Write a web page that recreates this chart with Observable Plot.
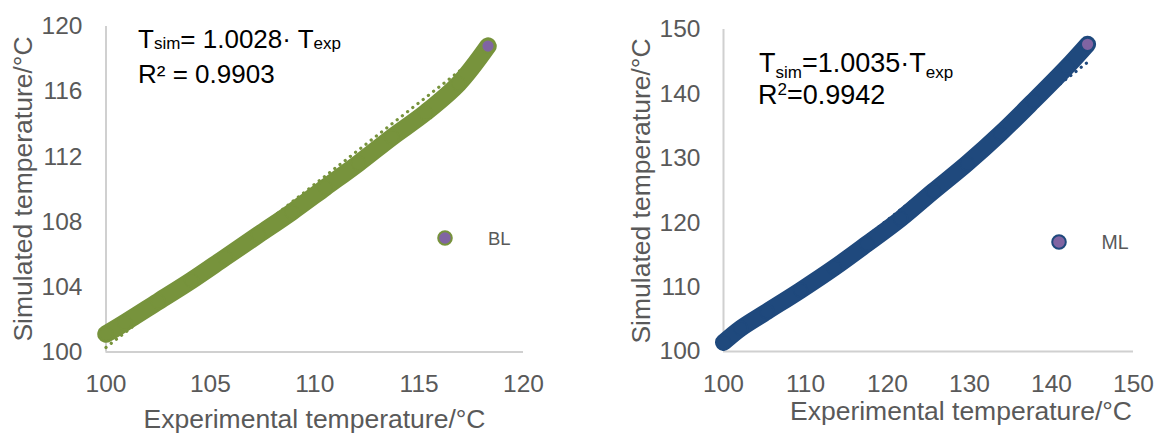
<!DOCTYPE html>
<html><head><meta charset="utf-8">
<script src="https://cdn.jsdelivr.net/npm/d3@7"></script>
<script src="https://cdn.jsdelivr.net/npm/@observablehq/plot@0.6"></script>
<style>
html,body{margin:0;padding:0;background:#fff;}
#wrap{display:flex;width:1155px;height:434px;overflow:hidden;}
#wrap > *{flex:none;}
</style></head><body><div id="wrap"></div>
<script>
// ---- data ----
const blExp = [100.0, 100.9, 102.5, 104.1, 105.7, 107.3, 108.9, 110.5, 112.1, 113.7, 115.3, 116.9, 118.3];
const blSim = [101.1, 101.8, 103.1, 104.4, 105.8, 107.2, 108.6, 110.1, 111.6, 113.2, 114.7, 116.5, 118.8];
const mlExp = [100.0, 102.1, 105.3, 109.4, 113.5, 117.5, 121.6, 125.6, 129.7, 133.8, 137.8, 141.9, 144.4];
const mlSim = [101.4, 103.6, 106.2, 109.5, 113.0, 116.7, 120.6, 124.9, 129.2, 133.9, 138.9, 144.2, 147.7];
const blSlope = 1.0028, blSlopeText = "1.0028", blR2Text = "0.9903";
const mlSlope = 1.0035, mlSlopeText = "1.0035", mlR2Text = "0.9942";
const blXTicks = [100, 105, 110, 115, 120];
const blYTicks = [100, 104, 108, 112, 116, 120];
const mlXTicks = [100, 110, 120, 130, 140, 150];
const mlYTicks = [100, 110, 120, 130, 140, 150];
const seriesNames = ["BL", "ML"];
const xTitle = "Experimental temperature/°C";
const yTitle = "Simulated temperature/°C";

const GREEN = "#77933C", BLUE = "#1F497D", PURPLE = "#8064A2", GRAY = "#595959", AXIS = "#D0D0D0";
const FONT = "'Liberation Sans', Arial, sans-serif";

function panel(cfg) {
  const data = cfg.xs.map((x, i) => ({x, y: cfg.ys[i]}));
  const last = [data[data.length - 1]];
  const trend = d3.extent(cfg.xs).map(x => ({x, y: cfg.slope * x}));
  const plot = Plot.plot({
    width: cfg.width, height: 434,
    marginLeft: cfg.ml, marginRight: cfg.mr, marginTop: cfg.mt, marginBottom: cfg.mb,
    x: {domain: [cfg.xTicks[0], cfg.xTicks[cfg.xTicks.length - 1]], ticks: cfg.xTicks, tickSize: 0, tickPadding: cfg.xtp, label: null},
    y: {domain: [cfg.yTicks[0], cfg.yTicks[cfg.yTicks.length - 1]], ticks: cfg.yTicks, tickSize: 0, tickPadding: cfg.ytp, label: null},
    style: {fontFamily: FONT, fontSize: "24.5px", color: GRAY, background: "white", overflow: "visible"},
    marks: [
      Plot.ruleX([cfg.xTicks[0]], {stroke: AXIS, strokeWidth: 2}),
      Plot.ruleY([cfg.yTicks[0]], {stroke: AXIS, strokeWidth: 2}),
      Plot.line(trend, {x: "x", y: "y", stroke: cfg.color, strokeWidth: 3.2, strokeDasharray: "0.1 6.5", strokeLinecap: "round"}),
      Plot.line(data, {x: "x", y: "y", stroke: cfg.color, strokeWidth: cfg.band, curve: "catmull-rom", strokeLinecap: "round", strokeLinejoin: "round"}),
      Plot.dot(data, {x: "x", y: "y", r: 7, fill: cfg.color, stroke: cfg.color}),
      Plot.dot(last, {x: "x", y: "y", r: 6.5, fill: PURPLE, stroke: cfg.color, strokeWidth: 1.8})
    ]
  });
  const svg = d3.select(plot);
  // axis titles
  svg.append("text").attr("x", cfg.xtX).attr("y", cfg.xtY).attr("text-anchor", "middle")
    .attr("font-size", 26.5).attr("fill", GRAY).text(xTitle);
  svg.append("text").attr("transform", `translate(${cfg.ytX},${cfg.ytY}) rotate(-90)`).attr("text-anchor", "middle")
    .attr("font-size", 26.5).attr("fill", GRAY).text(yTitle);
  // legend
  svg.append("circle").attr("cx", cfg.legX).attr("cy", cfg.legY).attr("r", 6.8)
    .attr("fill", PURPLE).attr("stroke", cfg.color).attr("stroke-width", 2);
  svg.append("text").attr("x", cfg.legTX).attr("y", cfg.legTY).attr("text-anchor", "start")
    .attr("font-size", cfg.legFS).attr("fill", GRAY).text(cfg.name);
  return {plot, svg};
}

const wrap = document.getElementById("wrap");

// left panel (BL)
const L = panel({
  xs: blExp, ys: blSim, slope: blSlope, xTicks: blXTicks, yTicks: blYTicks,
  width: 577, ml: 105.5, mr: 54, mt: 26, mb: 82.5, xtp: 22.5, ytp: 23.5,
  color: GREEN, band: 17.5, name: seriesNames[0],
  xtX: 314.5, xtY: 428, ytX: 32, ytY: 189,
  legX: 445, legY: 238, legTX: 488, legTY: 245, legFS: 18.5
});
{
  const t = L.svg.append("text").attr("x", 138).attr("y", 47.7).attr("text-anchor", "start")
    .attr("font-size", 26).attr("fill", "#000");
  t.append("tspan").text("T");
  t.append("tspan").attr("font-size", 17).attr("dy", 1.7).text("sim");
  t.append("tspan").attr("dy", -1.7).text("= " + blSlopeText + "· T");
  t.append("tspan").attr("font-size", 17).attr("dy", 1.7).text("exp");
  L.svg.append("text").attr("x", 138).attr("y", 82.7).attr("text-anchor", "start")
    .attr("font-size", 26).attr("fill", "#000").text("R² = " + blR2Text);
}
wrap.appendChild(L.plot);

// right panel (ML)
const R = panel({
  xs: mlExp, ys: mlSim, slope: mlSlope, xTicks: mlXTicks, yTicks: mlYTicks,
  width: 578, ml: 146, mr: 22, mt: 29, mb: 83, xtp: 23, ytp: 23,
  color: BLUE, band: 17, name: seriesNames[1],
  xtX: 384, xtY: 420, ytX: 73, ytY: 191,
  legX: 482, legY: 242, legTX: 524.5, legTY: 249, legFS: 19.5
});
{
  const t = R.svg.append("text").attr("x", 182).attr("y", 72.3).attr("text-anchor", "start")
    .attr("font-size", 27).attr("fill", "#000");
  t.append("tspan").text("T");
  t.append("tspan").attr("font-size", 17).attr("dy", 6).text("sim");
  t.append("tspan").attr("dy", -6).text("=" + mlSlopeText + "·T");
  t.append("tspan").attr("font-size", 17).attr("dy", 6).text("exp");
  const r = R.svg.append("text").attr("x", 181).attr("y", 104).attr("text-anchor", "start")
    .attr("font-size", 27).attr("fill", "#000");
  r.append("tspan").text("R");
  r.append("tspan").attr("font-size", 17).attr("dy", -9).text("2");
  r.append("tspan").attr("dy", 9).text("=" + mlR2Text);
}
wrap.appendChild(R.plot);
</script>
</body></html>
